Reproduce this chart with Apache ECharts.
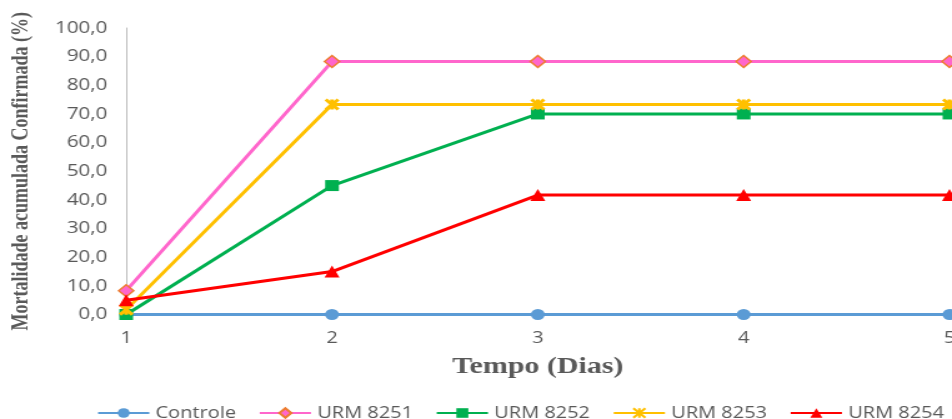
<!DOCTYPE html>
<html><head><meta charset="utf-8">
<script src="https://cdn.jsdelivr.net/npm/echarts@6/dist/echarts.min.js"></script>
<style>
html,body{margin:0;padding:0;background:#fff;overflow:hidden;width:952px;height:419px;}
#chart{width:762px;height:419px;transform:scaleX(1.2493);transform-origin:0 0;}
</style></head><body><div id="chart"></div>
<script>
const days = ['1', '2', '3', '4', '5'];
const seriesNames = ['Controle', 'URM 8251', 'URM 8252', 'URM 8253', 'URM 8254'];
const controle = [0, 0, 0, 0, 0];
const urm8251 = [8.3, 88.3, 88.3, 88.3, 88.3];
const urm8252 = [0, 45, 70, 70, 70];
const urm8253 = [1.7, 73.3, 73.3, 73.3, 73.3];
const urm8254 = [5, 15, 41.7, 41.7, 41.7];
const yMin = 0, yMax = 100, yStep = 10;
const xTitle = 'Tempo (Dias)';
const yTitle = 'Mortalidade acumulada Confirmada (%)';

const gray = '#595959';
const sans = '"Open Sans", sans-serif';
const serif = '"Liberation Serif", "Times New Roman", serif';
const starPath = 'path://M0,0L10,10M10,0L0,10M5,0L5,10';

function mkSeries(name, data, color, symbol, size, extra) {
  return Object.assign({
    name: name, type: 'line', data: data, symbol: symbol, symbolSize: size,
    lineStyle: { color: color, width: 3 },
    itemStyle: { color: color },
    emphasis: { disabled: true }
  }, extra || {});
}

const chart = echarts.init(document.getElementById('chart'));
chart.setOption({
  animation: false,
  backgroundColor: '#fff',
  grid: { left: 101, right: 2, top: 28, bottom: 104.5, containLabel: false, outerBoundsMode: 'none' },
  xAxis: {
    type: 'category', data: days, boundaryGap: false,
    axisLine: { show: true, lineStyle: { color: '#D9D9D9', width: 1 } },
    axisTick: { show: false },
    axisLabel: { color: gray, fontSize: 16, fontFamily: sans, margin: 16 },
    name: xTitle, nameLocation: 'middle', nameGap: 40, nameMoveOverlap: false,
    nameTextStyle: { color: gray, fontSize: 24, fontWeight: 'bold', fontFamily: serif }
  },
  yAxis: {
    type: 'value', min: yMin, max: yMax, interval: yStep,
    axisLine: { show: true, lineStyle: { color: '#BFBFBF', width: 1 } },
    axisTick: { show: false },
    splitLine: { show: false },
    axisLabel: { color: gray, fontSize: 16.5, fontFamily: sans, margin: 15,
      formatter: v => v.toFixed(1).replace('.', ',') },
    name: yTitle, nameLocation: 'middle', nameGap: 75, nameRotate: 90, nameMoveOverlap: false,
    nameTextStyle: { color: gray, fontSize: 18, fontWeight: 'bold', fontFamily: serif }
  },
  legend: {
    data: seriesNames, left: 72.5, top: 400, width: 1200, itemGap: 18, itemWidth: 41, itemHeight: 12,
    textStyle: { color: gray, fontSize: 16, fontFamily: sans }
  },
  series: [
    mkSeries(seriesNames[0], controle, '#5B9BD5', 'circle', 11),
    mkSeries(seriesNames[1], urm8251, '#FF66CC', 'diamond', 12,
      { itemStyle: { color: '#FF66CC', borderColor: '#ED7D31', borderWidth: 1.5 } }),
    mkSeries(seriesNames[2], urm8252, '#00B050', 'rect', 11),
    mkSeries(seriesNames[3], urm8253, '#FFC000', starPath, 10,
      { itemStyle: { color: '#FFC000', borderColor: '#FFC000', borderWidth: 3 } }),
    mkSeries(seriesNames[4], urm8254, '#FF0000', 'triangle', 12)
  ]
});
</script></body></html>
